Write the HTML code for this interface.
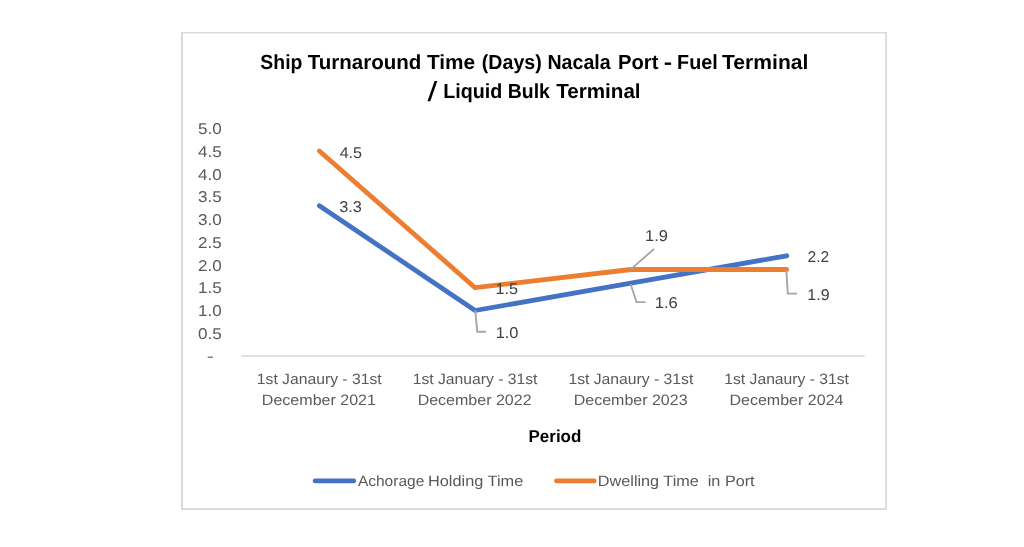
<!DOCTYPE html>
<html lang="en"><head><meta charset="utf-8"><title>Ship Turnaround Time (Days) Nacala Port</title>
<style>
html,body{margin:0;padding:0;background:#fff;}
body{width:1024px;height:547px;overflow:hidden;position:relative;}
svg{position:absolute;left:0;top:0;display:block;}
text{font-family:"Liberation Sans",Arial,sans-serif;white-space:pre;text-rendering:geometricPrecision;}
</style></head><body>
<svg width="1024" height="547" viewBox="0 0 1024 547">
<rect x="0" y="0" width="1024" height="547" fill="#fff"/>
<g fill="#d9d9d9">
<rect x="181" y="32" width="2" height="478"/>
<rect x="181" y="32" width="706" height="1.45"/>
<rect x="885.25" y="32" width="1.75" height="478"/>
<rect x="181" y="508.1" width="706" height="1.8"/>
</g>
<line x1="241.6" y1="356" x2="864.6" y2="356" stroke="#d6d6d6" stroke-width="1.7"/>
<polyline points="319.4,205.7 475.1,310.5 630.9,283.2 786.7,255.8" fill="none" stroke="#4472c4" stroke-width="4.8" stroke-linecap="round" stroke-linejoin="round"/>
<polyline points="319.4,151.0 475.1,287.7 630.9,269.5 786.7,269.5" fill="none" stroke="#ed7d31" stroke-width="4.8" stroke-linecap="round" stroke-linejoin="round"/>
<g fill="none" stroke="#a6a6a6" stroke-width="1.9">
<polyline points="475.3,310.3 477.2,331.7 486.0,331.7"/>
<polyline points="630.7,269.4 654.1,248.9"/>
<polyline points="630.7,284.2 636.5,302.1 645.5,302.1"/>
<polyline points="786.3,270.1 787.8,293.6 797.0,293.6"/>
</g>
<line x1="315.1" y1="480.9" x2="353.8" y2="480.9" stroke="#4472c4" stroke-width="4.8" stroke-linecap="round"/>
<line x1="556.5" y1="480.9" x2="594.2" y2="480.9" stroke="#ed7d31" stroke-width="4.8" stroke-linecap="round"/>
<text id="t1_0" x="260.35" y="69.00" font-size="20.50" font-weight="bold" fill="#000" textLength="42.05" lengthAdjust="spacingAndGlyphs" xml:space="preserve">Ship</text>
<text id="t1_1" x="307.75" y="69.00" font-size="20.50" font-weight="bold" fill="#000" textLength="113.50" lengthAdjust="spacingAndGlyphs" xml:space="preserve">Turnaround</text>
<text id="t1_2" x="426.90" y="69.00" font-size="20.50" font-weight="bold" fill="#000" textLength="48.20" lengthAdjust="spacingAndGlyphs" xml:space="preserve">Time</text>
<text id="t1_3" x="481.80" y="69.00" font-size="20.50" font-weight="bold" fill="#000" textLength="60.00" lengthAdjust="spacingAndGlyphs" xml:space="preserve">(Days)</text>
<text id="t1_4" x="547.40" y="69.00" font-size="20.50" font-weight="bold" fill="#000" textLength="63.30" lengthAdjust="spacingAndGlyphs" xml:space="preserve">Nacala</text>
<text id="t1_5" x="617.95" y="69.00" font-size="20.50" font-weight="bold" fill="#000" textLength="40.45" lengthAdjust="spacingAndGlyphs" xml:space="preserve">Port</text>
<text id="t1_6" x="663.80" y="69.00" font-size="20.50" font-weight="bold" fill="#000" textLength="8.35" lengthAdjust="spacingAndGlyphs" xml:space="preserve">-</text>
<text id="t1_7" x="677.10" y="69.00" font-size="20.50" font-weight="bold" fill="#000" textLength="40.60" lengthAdjust="spacingAndGlyphs" xml:space="preserve">Fuel</text>
<text id="t1_8" x="722.05" y="69.00" font-size="20.50" font-weight="bold" fill="#000" textLength="86.30" lengthAdjust="spacingAndGlyphs" xml:space="preserve">Terminal</text>
<text id="t2s" x="427.60" y="101.40" font-size="27.50" font-weight="normal" fill="#000" textLength="9.80" lengthAdjust="spacingAndGlyphs" xml:space="preserve">/</text>
<text id="t2a" x="443.20" y="97.50" font-size="20.30" font-weight="bold" fill="#000" textLength="59.10" lengthAdjust="spacingAndGlyphs" xml:space="preserve">Liquid</text>
<text id="t2b" x="507.80" y="97.50" font-size="20.30" font-weight="bold" fill="#000" textLength="42.10" lengthAdjust="spacingAndGlyphs" xml:space="preserve">Bulk</text>
<text id="t2c" x="556.20" y="97.50" font-size="20.30" font-weight="bold" fill="#000" textLength="84.40" lengthAdjust="spacingAndGlyphs" xml:space="preserve">Terminal</text>
<text id="per" x="528.55" y="442.00" font-size="17.20" font-weight="bold" fill="#000" textLength="52.80" lengthAdjust="spacingAndGlyphs" xml:space="preserve">Period</text>
<text id="lg1" x="357.90" y="485.80" font-size="15.00" font-weight="normal" fill="#595959" textLength="66.40" lengthAdjust="spacingAndGlyphs" xml:space="preserve">Achorage</text>
<text id="lg1b" x="427.95" y="485.80" font-size="15.00" font-weight="normal" fill="#595959" textLength="95.35" lengthAdjust="spacingAndGlyphs" xml:space="preserve">Holding Time</text>
<text id="lg2" x="597.85" y="485.80" font-size="15.00" font-weight="normal" fill="#595959" textLength="156.80" lengthAdjust="spacingAndGlyphs" xml:space="preserve">Dwelling Time  in Port</text>
<text id="c1a" x="256.80" y="384.00" font-size="15.00" font-weight="normal" fill="#595959" textLength="124.85" lengthAdjust="spacingAndGlyphs" xml:space="preserve">1st Janaury - 31st</text>
<text id="c1b" x="261.85" y="404.80" font-size="15.00" font-weight="normal" fill="#595959" textLength="114.10" lengthAdjust="spacingAndGlyphs" xml:space="preserve">December 2021</text>
<text id="c2a" x="412.70" y="384.00" font-size="15.00" font-weight="normal" fill="#595959" textLength="124.75" lengthAdjust="spacingAndGlyphs" xml:space="preserve">1st January - 31st</text>
<text id="c2b" x="417.65" y="404.80" font-size="15.00" font-weight="normal" fill="#595959" textLength="113.90" lengthAdjust="spacingAndGlyphs" xml:space="preserve">December 2022</text>
<text id="c3a" x="568.40" y="384.00" font-size="15.00" font-weight="normal" fill="#595959" textLength="124.95" lengthAdjust="spacingAndGlyphs" xml:space="preserve">1st Janaury - 31st</text>
<text id="c3b" x="573.75" y="404.80" font-size="15.00" font-weight="normal" fill="#595959" textLength="113.80" lengthAdjust="spacingAndGlyphs" xml:space="preserve">December 2023</text>
<text id="c4a" x="724.30" y="384.00" font-size="15.00" font-weight="normal" fill="#595959" textLength="124.65" lengthAdjust="spacingAndGlyphs" xml:space="preserve">1st Janaury - 31st</text>
<text id="c4b" x="729.45" y="404.80" font-size="15.00" font-weight="normal" fill="#595959" textLength="114.05" lengthAdjust="spacingAndGlyphs" xml:space="preserve">December 2024</text>
<text id="d45" x="339.65" y="158.00" font-size="15.60" font-weight="normal" fill="#404040" textLength="22.40" lengthAdjust="spacingAndGlyphs" xml:space="preserve">4.5</text>
<text id="d33" x="339.15" y="212.00" font-size="15.60" font-weight="normal" fill="#404040" textLength="22.70" lengthAdjust="spacingAndGlyphs" xml:space="preserve">3.3</text>
<text id="d15" x="495.45" y="294.00" font-size="15.60" font-weight="normal" fill="#404040" textLength="22.50" lengthAdjust="spacingAndGlyphs" xml:space="preserve">1.5</text>
<text id="d10" x="495.65" y="337.70" font-size="15.60" font-weight="normal" fill="#404040" textLength="22.80" lengthAdjust="spacingAndGlyphs" xml:space="preserve">1.0</text>
<text id="d19" x="645.05" y="240.60" font-size="15.60" font-weight="normal" fill="#404040" textLength="22.90" lengthAdjust="spacingAndGlyphs" xml:space="preserve">1.9</text>
<text id="d16" x="654.65" y="307.90" font-size="15.60" font-weight="normal" fill="#404040" textLength="23.20" lengthAdjust="spacingAndGlyphs" xml:space="preserve">1.6</text>
<text id="d22" x="807.55" y="262.00" font-size="15.60" font-weight="normal" fill="#404040" textLength="21.70" lengthAdjust="spacingAndGlyphs" xml:space="preserve">2.2</text>
<text id="d19b" x="807.35" y="299.60" font-size="15.60" font-weight="normal" fill="#404040" textLength="22.20" lengthAdjust="spacingAndGlyphs" xml:space="preserve">1.9</text>
<text id="y1" x="198.05" y="338.93" font-size="15.60" font-weight="normal" fill="#595959" textLength="23.75" lengthAdjust="spacingAndGlyphs" xml:space="preserve">0.5</text>
<text id="y2" x="198.05" y="316.16" font-size="15.60" font-weight="normal" fill="#595959" textLength="23.75" lengthAdjust="spacingAndGlyphs" xml:space="preserve">1.0</text>
<text id="y3" x="198.05" y="293.39" font-size="15.60" font-weight="normal" fill="#595959" textLength="23.75" lengthAdjust="spacingAndGlyphs" xml:space="preserve">1.5</text>
<text id="y4" x="198.05" y="270.62" font-size="15.60" font-weight="normal" fill="#595959" textLength="23.75" lengthAdjust="spacingAndGlyphs" xml:space="preserve">2.0</text>
<text id="y5" x="198.05" y="247.85" font-size="15.60" font-weight="normal" fill="#595959" textLength="23.75" lengthAdjust="spacingAndGlyphs" xml:space="preserve">2.5</text>
<text id="y6" x="198.05" y="225.08" font-size="15.60" font-weight="normal" fill="#595959" textLength="23.75" lengthAdjust="spacingAndGlyphs" xml:space="preserve">3.0</text>
<text id="y7" x="198.05" y="202.31" font-size="15.60" font-weight="normal" fill="#595959" textLength="23.75" lengthAdjust="spacingAndGlyphs" xml:space="preserve">3.5</text>
<text id="y8" x="198.05" y="179.54" font-size="15.60" font-weight="normal" fill="#595959" textLength="23.75" lengthAdjust="spacingAndGlyphs" xml:space="preserve">4.0</text>
<text id="y9" x="198.05" y="156.77" font-size="15.60" font-weight="normal" fill="#595959" textLength="23.75" lengthAdjust="spacingAndGlyphs" xml:space="preserve">4.5</text>
<text id="y10" x="198.05" y="134.00" font-size="15.60" font-weight="normal" fill="#595959" textLength="23.75" lengthAdjust="spacingAndGlyphs" xml:space="preserve">5.0</text>
<text id="y0" x="206.80" y="360.60" font-size="14.20" font-weight="normal" fill="#595959" textLength="7.20" lengthAdjust="spacingAndGlyphs" xml:space="preserve">-</text>
</svg>
</body></html>
